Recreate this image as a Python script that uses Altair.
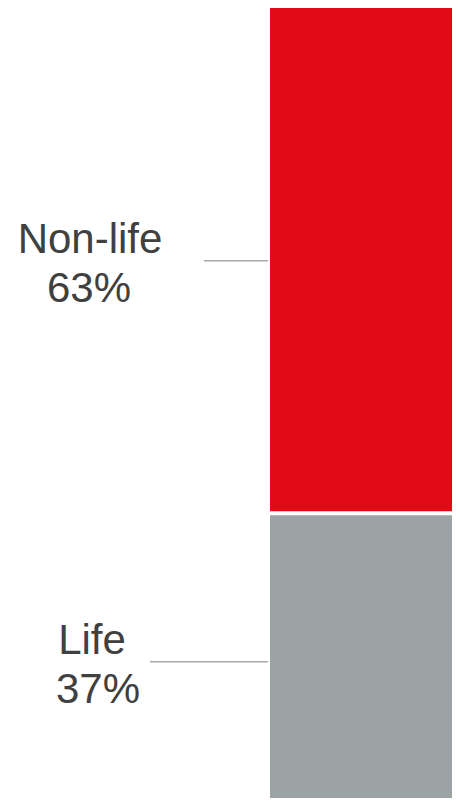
import altair as alt
import pandas as pd

categories = ["Life", "Non-life"]
shares = [37, 63]
labels = ["37%", "63%"]

df = pd.DataFrame({"category": categories, "share": shares, "pct": labels,
                   "order": list(range(len(categories)))})

W, H = 444, 790
FONT = "Liberation Sans"
TXT = "#404040"

base = alt.Chart(df).transform_stack(
    stack="share", groupby=[], as_=["y0", "y1"],
    sort=[alt.SortField("order", order="ascending")]
).transform_calculate(mid="(datum.y0 + datum.y1) / 2")

yscale = alt.Scale(domain=[0, 100], nice=False, zero=True, range=[802, 0])

bars = base.mark_bar().encode(
    x=alt.value(262), x2=alt.value(W),
    y=alt.Y("y0:Q", scale=yscale, axis=None),
    y2="y1:Q",
    color=alt.Color("category:N", legend=None,
                    scale=alt.Scale(domain=["Non-life", "Life"],
                                    range=["#E20A16", "#9CA3A5"])),
)

sep = base.transform_filter("datum.category == 'Life'").mark_rule(
    color="white", strokeWidth=4
).encode(x=alt.value(262), x2=alt.value(W), y=alt.Y("y1:Q", scale=yscale))

def label_layers(cat, name_x, pct_x, lead_x):
    b = base.transform_filter(f"datum.category == '{cat}'")
    name = b.mark_text(font=FONT, fontSize=42, color=TXT, align="center",
                       baseline="alphabetic", dy=-8).encode(
        x=alt.value(name_x), y=alt.Y("mid:Q", scale=yscale), text="category:N")
    pct = b.mark_text(font=FONT, fontSize=42, color=TXT, align="center",
                      baseline="alphabetic", dy=41).encode(
        x=alt.value(pct_x), y=alt.Y("mid:Q", scale=yscale), text="pct:N")
    lead = b.mark_rule(color="#a8a8a8", strokeWidth=1.5).encode(
        x=alt.value(lead_x), x2=alt.value(260), y=alt.Y("mid:Q", scale=yscale))
    return [name, pct, lead]

layers = [bars, sep] + label_layers("Non-life", 82, 81, 196) + label_layers("Life", 84, 90, 142)

chart = alt.layer(*layers).properties(
    width=W, height=H, padding=0, autosize=alt.AutoSizeParams(type="none")
).configure_view(stroke=None)

chart.save("out.html", embed_options={"renderer": "svg", "actions": False})
